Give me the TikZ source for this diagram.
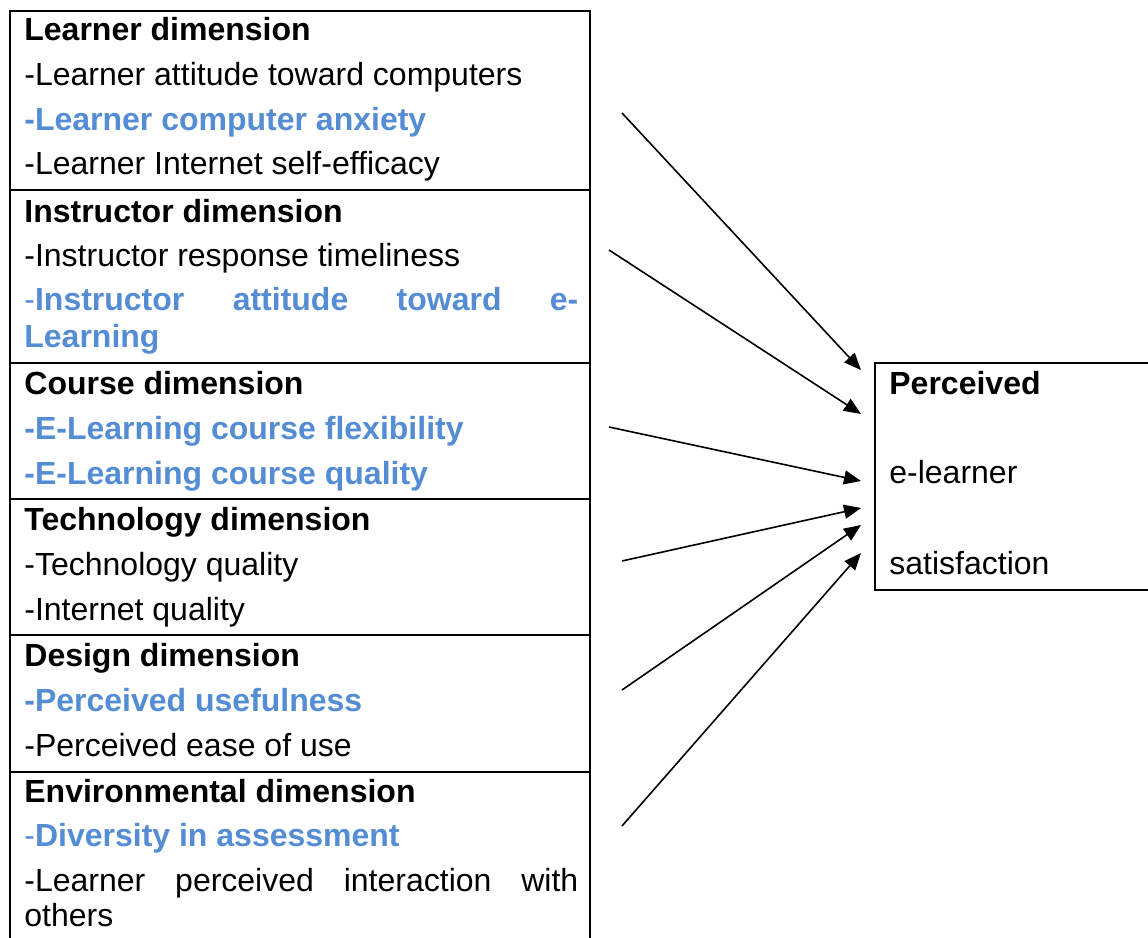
\documentclass[tikz,border=0pt]{standalone}
\usepackage{fontspec}
\setmainfont{Liberation Sans}
\usetikzlibrary{arrows.meta}
\definecolor{hl}{RGB}{84,141,212}
\begin{document}
\begin{tikzpicture}[x=0.5pt,y=-0.5pt,
  txt/.style={anchor=base west, inner sep=0pt, font=\fontsize{16}{19}\selectfont},
  hd/.style={txt, font=\fontsize{16}{19}\selectfont\bfseries},
  blu/.style={txt, text=hl, font=\fontsize{16}{19}\selectfont\bfseries},
  rowbox/.style={draw, line width=1pt, anchor=north west, inner sep=0pt, minimum width=290pt},
  arr/.style={line width=0.8pt, -{Triangle[length=8.5pt,width=7pt]}}]
\useasboundingbox (0,0) rectangle (1148,938);
% left table rows
\node[rowbox, minimum height=89.5pt] (rL) at (9,10) {};
\node[rowbox, minimum height=86.5pt] (rI) at (9,189) {};
\node[rowbox, minimum height=68pt] (rC) at (9,362) {};
\node[rowbox, minimum height=68pt] (rT) at (9,498) {};
\node[rowbox, minimum height=68.5pt] (rD) at (9,634) {};
\node[rowbox, minimum height=100pt] (rE) at (9,771) {};
% right box
\node[rowbox, minimum width=150pt, minimum height=113.5pt] (out) at (874,362) {};
% texts
\node[hd] (t1) at (24,40) {Learner dimension};
\node[txt] (t2) at (24,85) {-Learner attitude toward computers};
\node[blu] (t3) at (24,130) {-Learner computer anxiety};
\node[txt] (t4) at (24,174) {-Learner Internet self-efficacy};
\node[hd] (t5) at (24,222) {Instructor dimension};
\node[txt] (t6) at (24,266) {-Instructor response timeliness};
\node[blu] (t7) at (24,310) {\hbox to 277pt{{\mdseries-}Instructor\hfill attitude\hfill toward\hfill e-}};
\node[blu] (t8) at (24,347) {Learning};
\node[hd] (t9) at (24,394) {Course dimension};
\node[blu] (t10) at (24,439) {-E-Learning course flexibility};
\node[blu] (t11) at (24,484) {-E-Learning course quality};
\node[hd] (t12) at (24,530) {Technology dimension};
\node[txt] (t13) at (24,575) {-Technology quality};
\node[txt] (t14) at (24,620) {-Internet quality};
\node[hd] (t15) at (24,666) {Design dimension};
\node[blu] (t16) at (24,711) {-Perceived usefulness};
\node[txt] (t17) at (24,756) {-Perceived ease of use};
\node[hd] (t18) at (24,802) {Environmental dimension};
\node[blu] (t19) at (24,846) {{\mdseries-}Diversity in assessment};
\node[txt] (t20) at (24,891) {\hbox to 277pt{-Learner\hfill perceived\hfill interaction\hfill with}};
\node[txt] (t21) at (24,926) {others};
\node[hd] (p1) at (889,394) {Perceived};
\node[txt] (p2) at (889,483) {e-learner};
\node[txt] (p3) at (889,574) {satisfaction};
% arrows
\coordinate (s1) at (622,113); \coordinate (e1) at (861,370);
\coordinate (s2) at (609,250); \coordinate (e2) at (861,414);
\coordinate (s3) at (609,427); \coordinate (e3) at (861,481);
\coordinate (s4) at (622,561); \coordinate (e4) at (861,508);
\coordinate (s5) at (622,690); \coordinate (e5) at (861,525);
\coordinate (s6) at (622,826); \coordinate (e6) at (861,553);
\draw[arr] (s1) -- (e1);
\draw[arr] (s2) -- (e2);
\draw[arr] (s3) -- (e3);
\draw[arr] (s4) -- (e4);
\draw[arr] (s5) -- (e5);
\draw[arr] (s6) -- (e6);
\end{tikzpicture}
\end{document}
